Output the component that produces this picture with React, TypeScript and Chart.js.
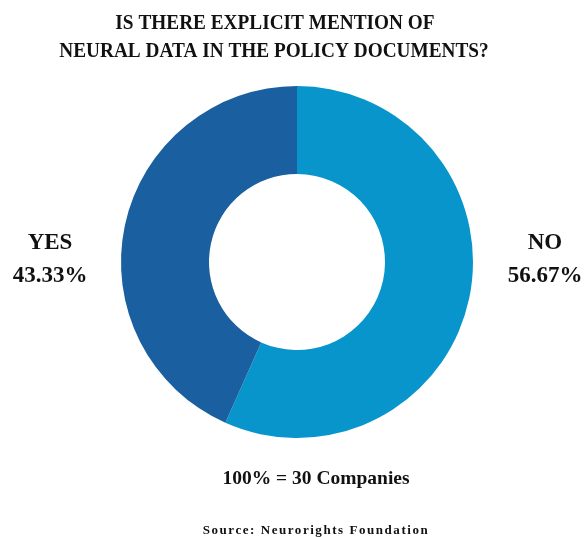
import React, { useEffect, useRef } from "react";
import { Chart, registerables } from "chart.js";

Chart.register(...registerables);

const categories = ["NO", "YES"];
const percentages = [56.67, 43.33];
const percentLabels = ["56.67%", "43.33%"];
const colors = ["#0895cb", "#1a5f9f"];
const titleLines = ["IS THERE EXPLICIT MENTION OF", "NEURAL DATA IN THE POLICY DOCUMENTS?"];
const totalNote = "100% = 30 Companies";
const sourceNote = "Source: Neurorights Foundation";

const SERIF = '"Liberation Serif", "Times New Roman", serif';

function stretchedText(ctx: CanvasRenderingContext2D, text: string, x: number, y: number, sy: number) {
  ctx.save();
  ctx.translate(x, y);
  ctx.scale(1, sy);
  ctx.fillText(text, 0, 0);
  ctx.restore();
}

const textPlugin = {
  id: "textPlugin",
  afterDraw(chart: any) {
    const ctx = chart.ctx as CanvasRenderingContext2D;
    ctx.save();
    ctx.fillStyle = "#111";
    ctx.textAlign = "center";
    ctx.textBaseline = "middle";
    ctx.font = `bold 19.3px ${SERIF}`;
    stretchedText(ctx, titleLines[0], 275, 23, 1.13);
    stretchedText(ctx, titleLines[1], 274, 51, 1.13);

    ctx.font = `bold 23px ${SERIF}`;
    ctx.fillText(categories[1], 50, 243);
    ctx.fillText(percentLabels[1], 50, 276);
    ctx.fillText(categories[0], 545, 243);
    ctx.fillText(percentLabels[0], 545, 276);

    ctx.font = `bold 19.5px ${SERIF}`;
    ctx.fillText(totalNote, 316, 479);

    ctx.font = `bold 13px ${SERIF}`;
    (ctx as any).letterSpacing = "1.55px";
    ctx.fillText(sourceNote, 316, 531);
    ctx.restore();
  },
};

export default function App() {
  const ref = useRef<HTMLCanvasElement>(null);
  useEffect(() => {
    if (!ref.current) return;
    const chart = new Chart(ref.current, {
      type: "doughnut",
      data: {
        labels: categories,
        datasets: [
          {
            data: percentages,
            backgroundColor: colors,
            borderWidth: 0,
          },
        ],
      },
      options: {
        animation: false,
        responsive: true,
        maintainAspectRatio: false,
        cutout: "50%",
        layout: { padding: { left: 121, right: 111, top: 86, bottom: 99 } },
        plugins: {
          legend: { display: false },
          tooltip: { enabled: false },
          title: { display: false },
        },
      },
      plugins: [textPlugin],
    });
    return () => chart.destroy();
  }, []);
  return (
    <div style={{ position: "fixed", left: 0, top: 0, width: 584, height: 537, background: "#fff" }}>
      <canvas ref={ref} />
    </div>
  );
}
